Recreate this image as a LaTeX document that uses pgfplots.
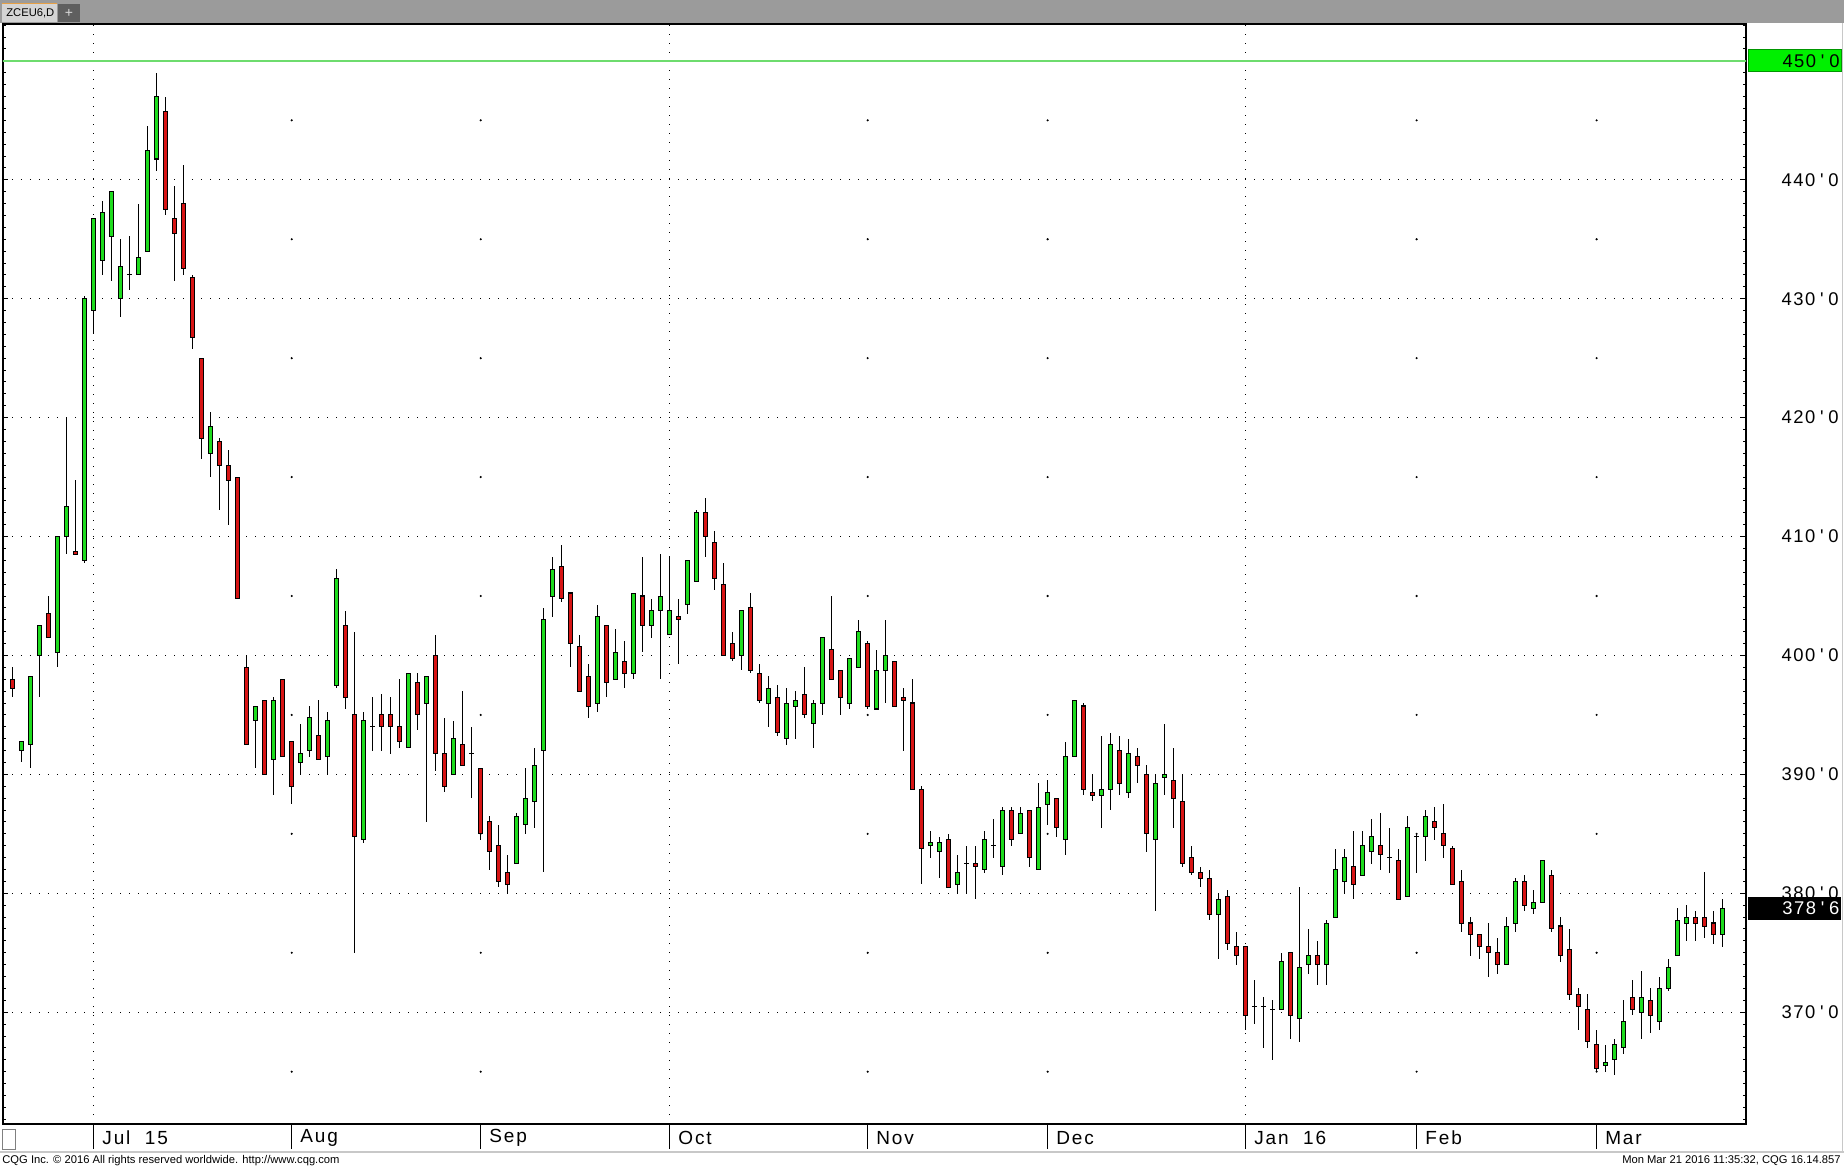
\documentclass[border=0pt]{standalone}
\usepackage{fontspec}
\setmainfont{Liberation Sans}
\newfontfamily\pricefont[LetterSpace=8]{Liberation Sans}
\newfontfamily\datefont[LetterSpace=10]{Liberation Sans}
\usepackage{graphicx}
\usepackage{pgfplots}
\pgfplotsset{compat=1.18}
\usepackage{pgfplotstable}

\definecolor{cgreen}{RGB}{30,220,30}
\definecolor{cred}{RGB}{215,20,20}
\definecolor{barbg}{RGB}{155,155,155}
\definecolor{tabbg}{RGB}{212,212,212}
\definecolor{tabline}{RGB}{230,160,70}
\definecolor{plusbg}{RGB}{95,95,95}
\definecolor{alertline}{RGB}{110,220,110}
\definecolor{boxgreen}{RGB}{0,240,0}
\definecolor{boxgreenb}{RGB}{0,150,0}
\definecolor{edge}{RGB}{200,200,200}

\newcommand{\px}[2]{#1\kern2.4pt\textquotesingle\kern2.4pt#2}

% ZCEU6 daily: index, open, high, low, close
\pgfplotstableread{
x o h l c
1 398.0 399.0 396.5 397.25
2 392.0 392.75 391.0 392.75
3 392.5 398.25 390.5 398.25
4 400.0 402.5 396.5 402.5
5 403.5 405.0 401.5 401.5
6 400.25 410.0 399.0 410.0
7 410.0 420.0 408.5 412.5
8 408.75 414.75 408.5 408.5
9 408.0 430.25 407.75 430.0
10 429.0 436.75 427.0 436.75
11 433.25 438.25 432.0 437.25
12 435.25 439.0 431.5 439.0
13 430.0 435.0 428.5 432.75
14 432.0 435.25 430.75 432.0
15 432.0 438.0 432.0 433.5
16 434.0 444.5 434.0 442.5
17 441.75 449.0 440.75 447.0
18 445.75 447.0 437.0 437.5
19 436.75 439.5 431.5 435.5
20 438.0 441.25 432.0 432.5
21 431.75 432.0 425.75 426.75
22 425.0 425.0 416.5 418.25
23 417.0 420.5 415.0 419.25
24 418.0 418.25 412.25 416.0
25 416.0 417.25 411.0 414.75
26 415.0 415.0 404.75 404.75
27 399.0 400.0 392.5 392.5
28 394.5 395.75 390.5 395.75
29 396.25 396.25 390.0 390.0
30 391.25 396.5 388.25 396.25
31 398.0 398.0 391.5 391.5
32 392.75 392.75 387.5 389.0
33 391.0 394.25 390.0 391.75
34 392.0 395.75 391.5 394.75
35 393.25 396.25 391.25 391.25
36 391.5 395.25 390.0 394.5
37 397.5 407.25 397.25 406.5
38 402.5 403.75 395.5 396.5
39 395.0 402.0 375.0 384.75
40 384.5 395.25 384.25 394.5
41 394.0 396.5 392.0 394.0
42 395.0 396.75 392.0 394.0
43 395.0 396.5 391.75 394.0
44 394.0 398.0 392.25 392.75
45 392.25 398.5 392.25 398.5
46 397.75 398.5 393.75 395.0
47 396.0 398.25 386.0 398.25
48 400.0 401.75 390.25 391.75
49 391.75 394.75 388.5 389.0
50 390.0 394.5 390.0 393.0
51 392.5 397.0 390.75 390.75
52 391.75 394.0 388.0 391.75
53 390.5 390.5 384.5 385.0
54 386.0 386.5 382.0 383.5
55 384.0 385.75 380.5 381.0
56 381.75 383.25 380.0 380.75
57 382.5 386.75 382.5 386.5
58 385.75 390.5 385.0 388.0
59 387.75 392.25 385.5 390.75
60 392.0 404.0 381.75 403.0
61 405.0 408.25 403.25 407.25
62 407.5 409.25 404.5 404.75
63 405.25 405.25 399.0 401.0
64 400.75 401.75 397.0 397.0
65 398.25 399.25 394.75 395.75
66 396.0 404.25 395.25 403.25
67 402.5 402.5 396.5 397.75
68 398.0 402.25 398.0 400.25
69 399.5 401.25 397.25 398.5
70 398.5 405.25 398.0 405.25
71 405.0 408.25 400.25 402.5
72 402.5 404.75 401.5 403.75
73 403.75 408.5 398.0 405.0
74 401.75 408.25 401.75 403.75
75 403.25 404.75 399.25 403.0
76 404.25 408.0 403.5 408.0
77 406.25 412.25 406.25 412.0
78 412.0 413.25 408.25 410.0
79 409.5 410.5 405.5 406.5
80 406.0 407.75 400.0 400.0
81 401.0 402.0 399.5 399.75
82 400.0 403.75 398.75 403.75
83 404.0 405.25 398.5 398.75
84 398.5 399.25 396.0 396.25
85 396.0 398.25 394.0 397.25
86 396.5 397.5 393.25 393.5
87 393.0 397.25 392.5 396.0
88 395.75 397.0 393.0 396.25
89 396.75 399.0 394.75 395.0
90 394.25 396.25 392.25 396.0
91 396.0 401.5 395.0 401.5
92 400.5 405.0 398.0 398.0
93 398.75 398.75 395.0 396.5
94 396.0 399.75 395.5 399.75
95 399.0 403.0 399.0 402.0
96 401.0 401.25 395.5 395.75
97 395.5 400.5 395.5 398.75
98 398.75 403.0 396.0 400.0
99 399.5 399.5 395.75 395.75
100 396.5 397.25 392.0 396.25
101 396.0 398.0 388.75 388.75
102 388.75 389.0 380.75 383.75
103 384.0 385.25 383.0 384.25
104 383.5 384.75 381.25 384.25
105 384.5 385.0 380.5 380.5
106 380.75 383.25 380.0 381.75
107 382.5 384.0 380.0 382.5
108 382.5 384.0 379.5 382.25
109 382.0 385.25 381.75 384.5
110 384.0 386.25 383.0 384.0
111 382.25 387.25 381.5 387.0
112 387.0 387.25 384.0 384.5
113 385.0 387.25 385.0 386.75
114 387.0 387.0 382.25 383.0
115 382.0 389.25 382.0 387.25
116 387.5 389.5 385.75 388.5
117 388.0 388.0 384.75 385.5
118 384.5 392.75 383.25 391.5
119 391.5 396.25 391.5 396.25
120 395.75 396.0 388.25 388.75
121 388.5 390.0 387.75 388.25
122 388.25 393.25 385.5 388.75
123 388.75 393.5 387.0 392.5
124 392.0 393.25 388.25 389.25
125 388.5 393.0 388.0 391.75
126 391.5 392.25 389.25 390.75
127 390.0 390.75 383.5 385.0
128 384.5 390.0 378.5 389.25
129 389.75 394.25 388.25 390.0
130 389.5 392.25 385.5 388.0
131 387.75 390.0 382.25 382.5
132 383.0 384.0 381.5 381.75
133 381.75 382.25 380.5 381.25
134 381.25 382.0 377.75 378.25
135 378.25 380.0 374.5 379.5
136 379.75 380.25 375.25 375.75
137 375.5 376.75 374.0 374.75
138 375.5 375.5 368.5 369.75
139 370.5 372.75 369.0 370.5
140 370.5 371.25 367.0 370.5
141 370.25 371.0 366.0 370.25
142 370.25 375.0 370.25 374.25
143 375.0 375.0 367.75 369.75
144 369.5 380.5 367.5 373.75
145 374.0 377.0 373.25 374.75
146 374.75 376.0 372.25 374.0
147 374.0 377.75 372.25 377.5
148 378.0 383.75 378.0 382.0
149 381.0 383.75 380.0 383.0
150 382.25 385.25 379.5 380.75
151 381.5 385.25 381.5 384.0
152 383.5 386.25 382.5 384.75
153 384.0 386.75 382.0 383.25
154 383.0 385.5 381.75 383.0
155 382.75 383.75 379.5 379.5
156 379.75 386.5 379.75 385.5
157 384.75 385.0 381.75 384.75
158 384.75 387.0 382.75 386.5
159 386.0 387.25 384.5 385.5
160 385.0 387.5 383.0 384.0
161 383.75 384.0 380.75 380.75
162 381.0 382.0 376.75 377.5
163 377.5 378.0 374.75 376.5
164 376.5 376.5 374.5 375.5
165 375.5 377.5 373.0 375.0
166 375.0 376.25 373.25 374.0
167 374.0 378.0 374.0 377.25
168 377.5 381.25 376.75 381.0
169 381.0 381.5 378.5 379.0
170 378.75 380.25 378.25 379.25
171 379.25 382.75 379.25 382.75
172 381.5 382.0 376.75 377.0
173 377.25 378.0 374.25 374.75
174 375.25 377.0 371.0 371.5
175 371.5 372.0 368.5 370.5
176 370.25 371.5 367.0 367.5
177 367.25 368.5 365.0 365.25
178 365.5 367.25 365.0 365.75
179 366.0 367.75 364.75 367.25
180 367.0 371.0 366.5 369.25
181 371.25 372.75 369.75 370.25
182 370.0 373.5 367.75 371.25
183 371.0 372.0 368.25 369.75
184 369.25 373.0 368.5 372.0
185 372.0 374.5 371.75 373.75
186 374.75 378.75 374.75 377.75
187 377.5 379.0 376.0 378.0
188 378.0 378.5 376.0 377.5
189 378.0 381.75 376.25 377.25
190 377.5 378.5 375.75 376.5
191 376.5 379.5 375.5 378.75
}\zc

\pgfplotsset{
  frame/.style={
    at={(1.5pt,22.5pt)}, anchor=south west,
    scale only axis, width=871.5pt, height=550pt,
    xmin=-0.08, xmax=193.6, ymin=360.6, ymax=453.1,
    enlargelimits=false,
  },
}

\begin{document}
\begin{tikzpicture}[x=1pt,y=1pt]
\useasboundingbox (0,0) rectangle (922,584.5);
\fill[white] (0,0) rectangle (922,584.5);
% window bar and tabs
\fill[barbg] (0,573) rectangle (922,584.5);
\fill[tabbg] (1,573.5) rectangle (28.5,583);
\draw[tabline, line width=0.8pt] (1,582.8) -- (28.5,582.8);
\node[anchor=west, inner sep=0pt, font=\fontsize{5.6}{6}\selectfont] at (3,578) {ZCEU6,D};
\fill[plusbg] (29,573.5) rectangle (40,582.5);
\node[inner sep=0pt, text=white!85!black, font=\fontsize{7}{7}\selectfont] at (34.5,578) {+};

% price grid, wicks
\begin{axis}[frame,
  axis line style={black, line width=0.8pt},
  xtick={10,74,138}, xticklabels={},
  xtick style={draw=none},
  ytick={370,380,390,400,410,420,430,440,450},
  yticklabels={\px{370}{0},\px{380}{0},\px{390}{0},\px{400}{0},\px{410}{0},\px{420}{0},\px{430}{0},\px{440}{0},\px{450}{0}},
  minor ytick={361,362,...,453},
  ytick pos=both, yticklabel pos=right,
  tick align=inside,
  major tick length=2.4pt, minor tick length=1.3pt,
  ytick style={black, line width=0.5pt},
  xmajorgrids, ymajorgrids,
  major grid style={black, line width=0.6pt, dash pattern=on 0.6pt off 3.9pt},
  yticklabel style={anchor=east, xshift=46.5pt, inner xsep=0pt,
    font=\pricefont\fontsize{9.2}{10}\selectfont},
]
\addplot[alertline, line width=0.7pt] coordinates {(-1,450) (195,450)};
\addplot[only marks, mark=*, mark size=0.3pt, black] coordinates {
(32,365)(32,375)(32,385)(32,395)(32,405)(32,415)(32,425)(32,435)(32,445)
(53,365)(53,375)(53,385)(53,395)(53,405)(53,415)(53,425)(53,435)(53,445)
(96,365)(96,375)(96,385)(96,395)(96,405)(96,415)(96,425)(96,435)(96,445)
(116,365)(116,375)(116,385)(116,395)(116,405)(116,415)(116,425)(116,435)(116,445)
(157,365)(157,375)(157,385)(157,395)(157,405)(157,415)(157,425)(157,435)(157,445)
(177,365)(177,375)(177,385)(177,395)(177,405)(177,415)(177,425)(177,435)(177,445)
};
% high-low wicks
\addplot[draw=none, mark=none,
  error bars/.cd, y dir=both, y explicit, error mark=none,
  error bar style={draw=black, solid, line width=0.55pt}]
  table[x=x, y expr={(\thisrow{h}+\thisrow{l})/2},
        y error plus expr={(\thisrow{h}-\thisrow{l})/2},
        y error minus expr={(\thisrow{h}-\thisrow{l})/2}] {\zc};
% open ticks (visible as the cross bar of unchanged sessions)
\addplot[draw=none, mark=none,
  error bars/.cd, x dir=both, x fixed=0.265, error mark=none,
  error bar style={draw=black, solid, line width=0.55pt}]
  table[x=x, y=o] {\zc};
\end{axis}

% candle bodies, month strip
\begin{axis}[frame,
  ybar stacked, bar width=0.42,
  axis x line*=bottom, axis y line=none,
  x axis line style={draw=none},
  ytick=\empty,
  xtick={10,32,53,74,96,116,138,157,177},
  xticklabels={Jul~~15,Aug,Sep,Oct,Nov,Dec,Jan~~16,Feb,Mar},
  xtick align=outside, major tick length=12.5pt,
  xtick style={black, line width=0.6pt},
  xticklabel style={anchor=west, xshift=0.8pt, yshift=5.5pt,
    font=\datefont\fontsize{9.5}{10}\selectfont},
]
\addplot[draw=none, fill=none] table[x=x, y expr={min(\thisrow{o},\thisrow{c})}] {\zc};
\addplot[fill=cgreen, draw=black, line width=0.5pt] table[x=x, y expr={max(\thisrow{c}-\thisrow{o},0)}] {\zc};
\addplot[fill=cred, draw=black, line width=0.5pt] table[x=x, y expr={max(\thisrow{o}-\thisrow{c},0)}] {\zc};
\coordinate (p450) at (axis cs:193.6,450);
\coordinate (plast) at (axis cs:193.6,378.75);
\end{axis}

% price boxes
\node[fill=boxgreen, draw=boxgreenb, line width=0.5pt, anchor=west,
  minimum height=11pt, text width=44.5pt, inner xsep=1pt, inner ysep=0pt,
  align=right, font=\pricefont\fontsize{9.2}{10}\selectfont]
  at ([xshift=1pt]p450) {\px{450}{0}};
\node[fill=black, text=white, anchor=west,
  minimum height=11.5pt, text width=44.5pt, inner xsep=1pt, inner ysep=0pt,
  align=right, font=\pricefont\fontsize{9.2}{10}\selectfont]
  at ([xshift=1pt]plast) {\px{378}{6}};

% date strip frame and footer
\draw[gray, line width=0.5pt] (1,9.8) rectangle (7.5,20);
\draw[edge, line width=0.8pt] (0,8.6) -- (922,8.6);
\draw[edge, line width=0.8pt] (921.3,8.6) -- (921.3,573);
\node[anchor=west, inner sep=0pt, font=\fontsize{5.6}{6}\selectfont] at (1,4)
  {CQG Inc. © 2016 All rights reserved worldwide. http://www.cqg.com};
\node[anchor=east, inner sep=0pt, font=\fontsize{5.6}{6}\selectfont] at (920.5,4)
  {Mon Mar 21 2016 11:35:32, CQG 16.14.857};
\end{tikzpicture}
\end{document}
